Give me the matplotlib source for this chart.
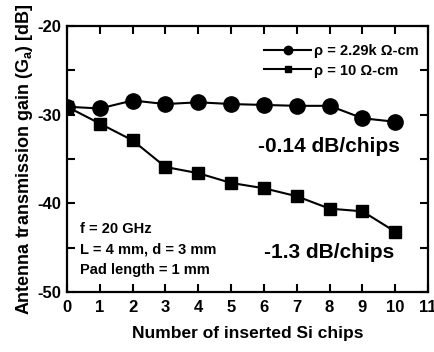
import matplotlib
matplotlib.use('Agg')
import matplotlib.pyplot as plt
from matplotlib.ticker import MultipleLocator

chips = [0, 1, 2, 3, 4, 5, 6, 7, 8, 9, 10]
gain_229k = [-29.1, -29.3, -28.4, -28.8, -28.6, -28.8, -28.9, -29.0, -29.0, -30.4, -30.8]
gain_10 = [-29.1, -31.0, -32.9, -35.9, -36.6, -37.7, -38.3, -39.2, -40.6, -40.9, -43.2]

plt.rcParams['font.family'] = ['Liberation Sans', 'DejaVu Sans']
plt.rcParams['font.weight'] = 'bold'
plt.rcParams['axes.unicode_minus'] = False

fig = plt.figure(figsize=(4.34, 3.52), dpi=100)
ax = fig.add_axes([0.1544, 0.1705, 0.832, 0.7555])

ax.plot(chips, gain_229k, color='black', marker='o', markersize=11, linewidth=1.5,
        label='\u03c1 = 2.29k \u03a9-cm')
ax.plot(chips, gain_10, color='black', marker='s', markersize=9, linewidth=1.5,
        label='\u03c1 = 10 \u03a9-cm')

ax.set_xlim(0, 11)
ax.set_ylim(-50, -20)
ax.xaxis.set_major_locator(MultipleLocator(1))
ax.yaxis.set_major_locator(MultipleLocator(10))
ax.yaxis.set_minor_locator(MultipleLocator(5))
ax.tick_params(axis='both', which='both', direction='in', top=True, right=True,
               width=1.5, labelsize=12)
ax.tick_params(axis='both', which='major', length=6)
ax.tick_params(axis='y', which='minor', length=6)
ax.tick_params(axis='x', pad=6)
ax.tick_params(axis='y', pad=4)
for s in ax.spines.values():
    s.set_linewidth(1.6)

ax.set_xlabel('Number of inserted Si chips', fontsize=12.5, fontweight='bold', labelpad=8)
ax.set_ylabel('Antenna transmission gain (G$_\\mathregular{a}$) [dB]', fontsize=13,
              fontweight='bold', labelpad=2)

leg = ax.legend(loc='upper right', frameon=False, fontsize=10.5, markerscale=0.55,
                handlelength=3.2, handletextpad=0.2, labelspacing=0.35,
                bbox_to_anchor=(1.01, 0.98))

ax.text(0.529, 0.526, '-0.14 dB/chips', transform=ax.transAxes, fontsize=15, fontweight='bold')
ax.text(0.546, 0.128, '-1.3 dB/chips', transform=ax.transAxes, fontsize=15, fontweight='bold')
ax.text(0.035, 0.068, 'f = 20 GHz\nL = 4 mm, d = 3 mm\nPad length = 1 mm', transform=ax.transAxes,
        fontsize=10.5, fontweight='bold', linespacing=1.6)

fig.savefig('out.png', dpi=100)
